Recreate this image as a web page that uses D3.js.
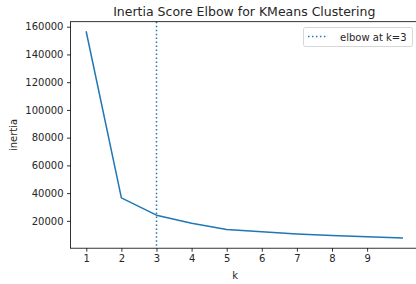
<!DOCTYPE html>
<html>
<head>
<meta charset="utf-8">
<script src="https://cdn.jsdelivr.net/npm/d3@7"></script>
<style>
body { margin: 0; background: #fff; }
text { font-family: "DejaVu Sans", sans-serif; fill: #262626; }
</style>
</head>
<body>
<div id="main_div"></div>
<script>
var ks = [1, 2, 3, 4, 5, 6, 7, 8, 9, 10];
var inertia = [156200, 36600, 24100, 18300, 13800, 12050, 10600, 9450, 8450, 7700];
var x_ticks = [1, 2, 3, 4, 5, 6, 7, 8, 9];
var y_ticks = [20000, 40000, 60000, 80000, 100000, 120000, 140000, 160000];
var elbow_k = 3;
var title = "Inertia Score Elbow for KMeans Clustering";
var legend_label = "elbow at k=3";

var scores = ks.map(function(k, i) { return {X: k, Y: inertia[i]}; });

// matplotlib style 5% margins
var x0 = d3.min(ks), x1 = d3.max(ks);
var y0 = d3.min(inertia), y1 = d3.max(inertia);
var xm = (x1 - x0) * 0.05, ym = (y1 - y0) * 0.05;

var ax_left = 70.5, ax_right = 418, ax_top = 21.7, ax_bottom = 248.2;
var x_scale = d3.scaleLinear().domain([x0 - xm, x1 + xm]).range([ax_left, ax_right]);
var y_scale = d3.scaleLinear().domain([y0 - ym, y1 + ym]).range([ax_bottom, ax_top]);

var svg = d3.select("#main_div").append("svg").attr("width", 416).attr("height", 284);

// vertical elbow line
svg.append("line")
    .attr("x1", x_scale(elbow_k)).attr("x2", x_scale(elbow_k))
    .attr("y1", ax_top).attr("y2", ax_bottom)
    .attr("stroke", "#1f77b4").attr("stroke-width", 1.5)
    .attr("stroke-dasharray", "1.5,2.475");

var line = d3.line()
    .x(function(d) { return x_scale(d.X); })
    .y(function(d) { return y_scale(d.Y); });

svg.append("path").datum(scores)
    .attr("d", line)
    .attr("fill", "none")
    .attr("stroke", "#1f77b4")
    .attr("stroke-width", 1.5)
    .attr("stroke-linejoin", "round")
    .attr("stroke-linecap", "square");

// spines
svg.append("rect").attr("x", ax_left).attr("y", ax_top).attr("width", ax_right - ax_left).attr("height", ax_bottom - ax_top)
    .attr("fill", "none").attr("stroke", "#000").attr("stroke-width", 0.8);

var g_x = svg.append("g").attr("transform", "translate(0," + ax_bottom + ")")
    .call(d3.axisBottom(x_scale).tickValues(x_ticks).tickSize(3.5).tickPadding(3.5).tickFormat(d3.format("d")));
var g_y = svg.append("g").attr("transform", "translate(" + ax_left + ",0)")
    .call(d3.axisLeft(y_scale).tickValues(y_ticks).tickSize(3.5).tickPadding(3.5).tickFormat(d3.format("d")));

[g_x, g_y].forEach(function(g) {
    g.select(".domain").remove();
    g.selectAll(".tick line").attr("stroke", "#000").attr("stroke-width", 0.8);
    g.selectAll(".tick text").attr("font-family", "DejaVu Sans").attr("font-size", 10).attr("fill", "#262626");
});

svg.append("text").attr("x", (ax_left + ax_right) / 2).attr("y", 16)
    .attr("text-anchor", "middle").attr("font-size", 12.5).text(title);

svg.append("text").attr("x", (ax_left + ax_right) / 2 - 9).attr("y", 279)
    .attr("text-anchor", "middle").attr("font-size", 10).text("k");

svg.append("text").attr("transform", "translate(17," + ((ax_top + ax_bottom) / 2) + ") rotate(-90)")
    .attr("text-anchor", "middle").attr("font-size", 10).text("inertia");

// legend
var lg = svg.append("g");
lg.append("rect").attr("x", 303.5).attr("y", 27.5).attr("width", 109).attr("height", 19)
    .attr("rx", 2).attr("fill", "#fff").attr("fill-opacity", 0.8)
    .attr("stroke", "#ccc").attr("stroke-width", 0.8);
lg.append("line").attr("x1", 308).attr("x2", 328).attr("y1", 36.5).attr("y2", 36.5)
    .attr("stroke", "#1f77b4").attr("stroke-width", 1.5).attr("stroke-dasharray", "1.5,2.475");
lg.append("text").attr("x", 340).attr("y", 40.5).attr("font-size", 10).text(legend_label);
</script>
</body>
</html>
